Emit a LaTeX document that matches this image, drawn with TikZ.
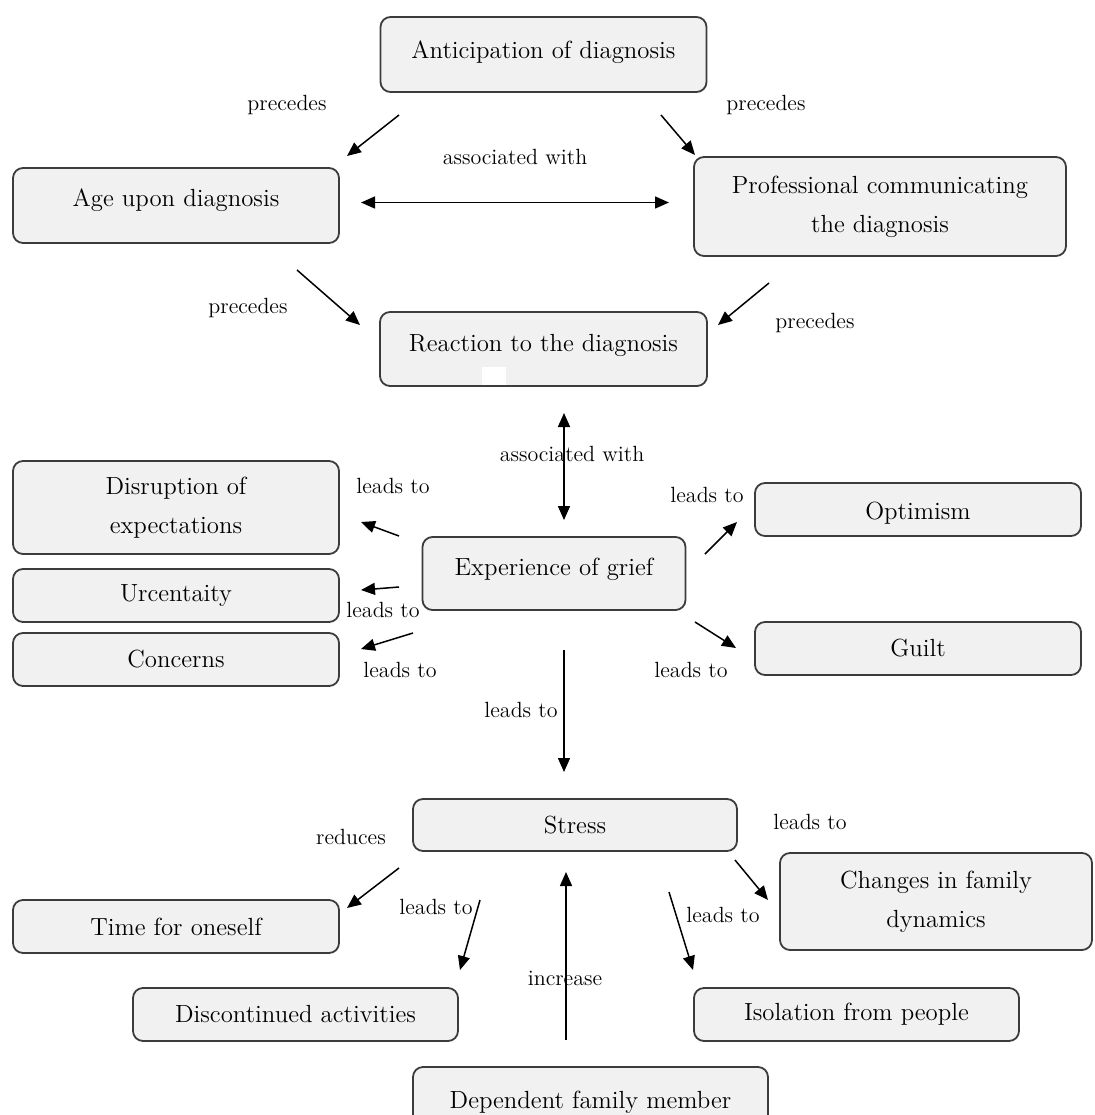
\documentclass[tikz,border=0pt]{standalone}
\usepackage{xcolor}
\usepackage{tikz}
\usetikzlibrary{arrows.meta}

\definecolor{boxfill}{HTML}{F1F1F1}
\definecolor{boxline}{HTML}{3C3C3C}

\begin{document}
\begin{tikzpicture}[x=0.5pt, y=-0.5pt, font=\fontsize{12.4}{19.5}\selectfont]
	\tikzstyle{box} = [rectangle, rounded corners=5pt, minimum width=163pt, minimum height=26.5pt, align=center, draw=boxline, line width=0.9pt, fill=boxfill]
	\tikzstyle{rel} = [font=\fontsize{11}{13}\selectfont, inner sep=1pt]
	\tikzstyle{arrow} = [-{Triangle[length=7pt,width=6pt]}, line width=0.75pt]
	\tikzstyle{dblarrow} = [{Triangle[length=7pt,width=6pt]}-{Triangle[length=7pt,width=6pt]}, line width=0.75pt]

	\useasboundingbox (0,0) rectangle (1094,1115);

	% Diagnosis nodes
	\node (antic) [box, minimum height=37.5pt, text depth=4.4pt] at (543.5,54.5) {Anticipation of diagnosis};
	\node (age) [box, minimum height=37.5pt, text depth=7.4pt] at (176,205.5) {Age upon diagnosis};
	\node (prof) [box, minimum width=186pt, minimum height=49.5pt] at (880,206.5) {Professional communicating\\the diagnosis};
	\node (react) [box, minimum width=163.5pt, minimum height=37pt, text depth=6.4pt] at (543.5,349) {Reaction to the diagnosis};
	\fill[white] (482,367) rectangle (506,385);

	% Grief nodes
	\node (grief) [box, minimum width=131.5pt, minimum height=36.5pt, text depth=6.4pt] at (554,573.5) {Experience of grief};
	\node (disr) [box, minimum height=46.5pt] at (176,507.5) {Disruption of\\expectations};
	\node (unc) [box] at (176,595.5) {Urcentaity};
	\node (conc) [box] at (176,659.5) {Concerns};
	\node (optim) [box, text height=12.5pt] at (918,509.5) {Optimism};
	\node (guilt) [box] at (918,648.5) {Guilt};

	% Stress nodes
	\node (stress) [box, minimum width=162pt, minimum height=26pt] at (575,825) {Stress};
	\node (time) [box] at (176,926.5) {Time for oneself};
	\node (disc) [box, minimum width=162.5pt] at (295.5,1014.5) {Discontinued activities};
	\node (changes) [box, minimum width=156pt, minimum height=48.5pt] at (936,901.5) {Changes in family\\dynamics};
	\node (iso) [box, minimum width=162.5pt] at (856.5,1014.5) {Isolation from people};
	\node (dep) [box, minimum width=177.5pt, minimum height=35pt] at (590.5,1102) {Dependent family member};

	% Labels
	\node (pre1) [rel] at (287,105) {precedes};
	\node (pre2) [rel] at (766,105) {precedes};
	\node (asso1) [rel] at (515,157) {associated with};
	\node (pre3) [rel] at (248,308) {precedes};
	\node (pre4) [rel] at (815,323) {precedes};
	\node (asso2) [rel] at (572,454) {associated with};
	\node (lead1) [rel] at (393,486) {leads to};
	\node (lead2) [rel] at (383,610) {leads to};
	\node (lead3) [rel] at (400,670) {leads to};
	\node (lead4) [rel] at (707,495) {leads to};
	\node (lead5) [rel] at (691,670) {leads to};
	\node (lead6) [rel] at (521,710) {leads to};
	\node (red) [rel] at (351,837) {reduces};
	\node (lead7) [rel] at (436,907) {leads to};
	\node (lead8) [rel] at (810,822) {leads to};
	\node (lead9) [rel] at (723,915) {leads to};
	\node (inc) [rel] at (565,978) {increase};

	% Arrow ends
	\coordinate (antic-sw) at (399,115);
	\coordinate (age-ne) at (347,156);
	\coordinate (antic-se) at (661,115);
	\coordinate (prof-nw) at (695,155);
	\coordinate (age-e) at (361,202.5);
	\coordinate (prof-w) at (669,202.5);
	\coordinate (age-se) at (297,270);
	\coordinate (react-nw) at (360,325);
	\coordinate (prof-sw) at (769,283);
	\coordinate (react-ne) at (718,325);
	\coordinate (react-s) at (564,413);
	\coordinate (grief-n) at (564,520);
	\coordinate (grief-w1) at (399,536);
	\coordinate (disr-e) at (361,522);
	\coordinate (grief-w2) at (399,587);
	\coordinate (unc-e) at (361,590);
	\coordinate (grief-w3) at (413,633);
	\coordinate (conc-e) at (361,649);
	\coordinate (grief-ne) at (705,554);
	\coordinate (optim-w) at (737,522);
	\coordinate (grief-se) at (695,622);
	\coordinate (guilt-w) at (736,648);
	\coordinate (grief-s) at (564,650);
	\coordinate (stress-n) at (564,772);
	\coordinate (stress-sw) at (399,868);
	\coordinate (time-e) at (347,908);
	\coordinate (stress-s1) at (480,900);
	\coordinate (disc-n) at (460,970);
	\coordinate (stress-se) at (735,860);
	\coordinate (changes-w) at (768,900);
	\coordinate (stress-s2) at (669,892);
	\coordinate (iso-n) at (693,970);
	\coordinate (dep-n) at (566,1040);
	\coordinate (stress-s) at (566,872);

	% Arrows
	\draw [arrow] (antic-sw) -- (age-ne);
	\draw [arrow] (antic-se) -- (prof-nw);
	\draw [dblarrow] (age-e) -- (prof-w);
	\draw [arrow] (age-se) -- (react-nw);
	\draw [arrow] (prof-sw) -- (react-ne);
	\draw [dblarrow] (react-s) -- (grief-n);
	\draw [arrow] (grief-w1) -- (disr-e);
	\draw [arrow] (grief-w2) -- (unc-e);
	\draw [arrow] (grief-w3) -- (conc-e);
	\draw [arrow] (grief-ne) -- (optim-w);
	\draw [arrow] (grief-se) -- (guilt-w);
	\draw [arrow] (grief-s) -- (stress-n);
	\draw [arrow] (stress-sw) -- (time-e);
	\draw [arrow] (stress-s1) -- (disc-n);
	\draw [arrow] (stress-se) -- (changes-w);
	\draw [arrow] (stress-s2) -- (iso-n);
	\draw [arrow] (dep-n) -- (stress-s);
\end{tikzpicture}
\end{document}
